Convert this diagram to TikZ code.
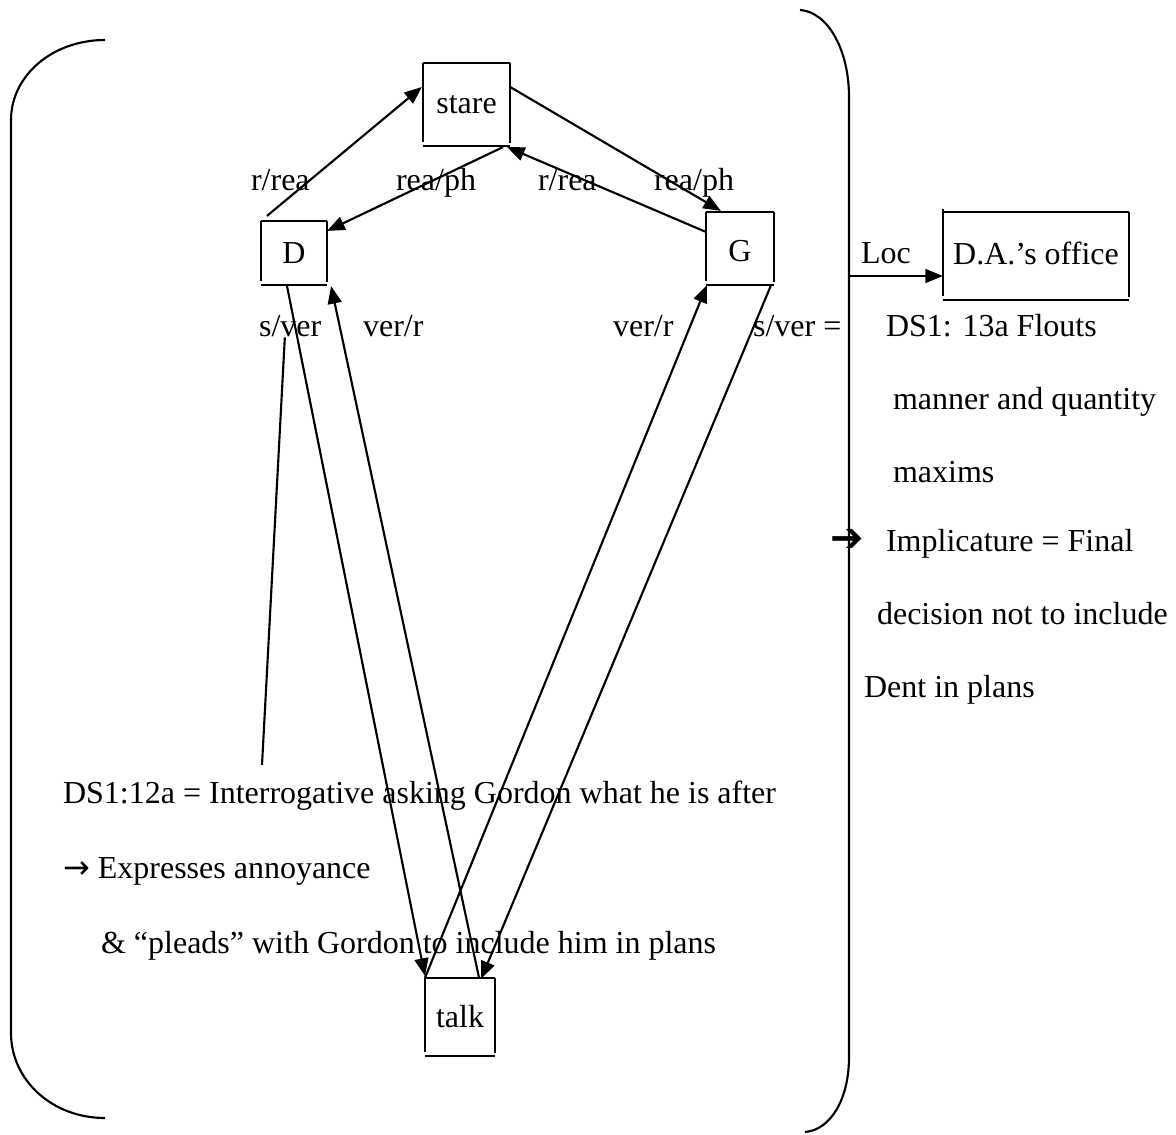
\documentclass[tikz,border=0pt]{standalone}
\usepackage{fontspec}
\setmainfont{Liberation Serif}
\newfontfamily\dingfont{DejaVu Sans}
\usetikzlibrary{arrows.meta,fit}

% box drawn with its three sides plus a detached bottom rule
\newcommand\openbox[1]{%
  \draw (#1.north west) -- (#1.north east)
        (#1.north west) -- ([yshift=1.6pt]#1.south west)
        (#1.north east) -- ([yshift=1.2pt]#1.south east)
        (#1.south west) -- (#1.south east);}

\begin{document}
\begin{tikzpicture}[x=0.375pt,y=-0.375pt,line width=0.8pt,
  every node/.style={font=\fontsize{12}{14.4}\selectfont},
  lbl/.style={anchor=base west,inner sep=0pt},
  boxfit/.style={inner sep=0pt},
  arr/.style={-{Triangle[length=6.6pt,width=5.2pt]}}]
\useasboundingbox (0,0) rectangle (1176,1134);

% brackets
\draw (105,40) .. controls (52,40) and (11,76) .. (11,120)
      -- (11,1033) .. controls (11,1080) and (52,1118) .. (105,1118);
\draw (800,10) .. controls (828,12) and (849,50) .. (849,97)
      -- (849,1057) .. controls (849,1100) and (830,1130) .. (805,1132);

% boxes
\node[boxfit,fit={(424,64) (509,145)}] (stare) {};
\node[boxfit,fit={(262,222) (326,284)}] (D) {};
\node[boxfit,fit={(707,213) (773,284)}] (G) {};
\node[boxfit,fit={(426,979) (494,1055)}] (talk) {};
\node[boxfit,fit={(944,213) (1128,299)}] (da) {};
\node (stareT) at (stare.center) {stare};
\node (DT) at (D.center) {D};
\node (GT) at ([yshift=-1pt]G.center) {G};
\node (talkT) at (talk.center) {talk};
\node (daT) at ([yshift=1pt]da.center) {D.A.’s office};
\openbox{stare}
\openbox{D}
\openbox{G}
\openbox{talk}
\openbox{da}
\draw (da.north west) -- ([yshift=1.1pt]da.north west);

% connectors
\draw[arr] ([shift={(6,-5)}]D.north west) -- ([shift={(-1,24)}]stare.north west);
\draw[arr] ([shift={(-7,1)}]stare.south east) -- ([shift={(0,10)}]D.north east);
\draw[arr] ([shift={(0,24)}]stare.north east) -- ([shift={(15,-1)}]G.north west);
\draw[arr] ([shift={(0,20)}]G.north west) -- ([shift={(-3,1)}]stare.south east);
\draw[arr] ([shift={(-7,1)}]D.south) -- ([shift={(0,-2)}]talk.north west);
\draw[arr] ([shift={(-16,0)}]talk.north east) -- ([shift={(4,1)}]D.south east);
\draw[arr] (talk.north west) -- ([shift={(1,0)}]G.south west);
\draw[arr] ([shift={(-3,0)}]G.south east) -- ([shift={(-14,1)}]talk.north east);

% edge labels
\node[lbl] (l1) at (250,191) {r/rea};
\node[lbl] (l2) at (395,191) {rea/ph};
\node[lbl] (l3) at (537,191) {r/rea};
\node[lbl] (l4) at (653,191) {rea/ph};
\node[lbl] (sv1) at (258,336) {s/ver};
\node[lbl] (vr1) at (362,336) {ver/r};
\node[lbl] (vr2) at (612,336) {ver/r};
\node[lbl] (sv2) at (752,336) {s/ver =};

% pointer from s/ver to the note below
\coordinate (noteTop) at (262,765);
\draw ([xshift=-2pt]sv1.south) -- (noteTop);

% location
\coordinate (locStart) at (849,276);
\node[lbl] (loc) at (860,263) {Loc};
\draw[arr] (locStart) -- (da.west |- locStart);

% right-hand notes
\node[lbl] (r1) at (885,336) {DS1: 13a Flouts};
\node[lbl] (r2) at (892,409) {manner and quantity};
\node[lbl] (r3) at (892,482) {maxims};
\node[lbl] (r4a) at (829,551) {\dingfont\fontsize{15}{16}\selectfont ➔};
\node[lbl] (r4) at (885,551) {Implicature = Final};
\node[lbl] (r5) at (876,624) {decision not to include};
\node[lbl] (r6) at (863,697) {Dent in plans};

% left-hand notes
\node[lbl] (n1) at (62,803) {DS1:12a = Interrogative asking Gordon what he is after};
\node[lbl] (n2) at (62,878) {{\dingfont →} Expresses annoyance};
\node[lbl] (n3) at (100,953) {\& “pleads” with Gordon to include him in plans};
\end{tikzpicture}
\end{document}
